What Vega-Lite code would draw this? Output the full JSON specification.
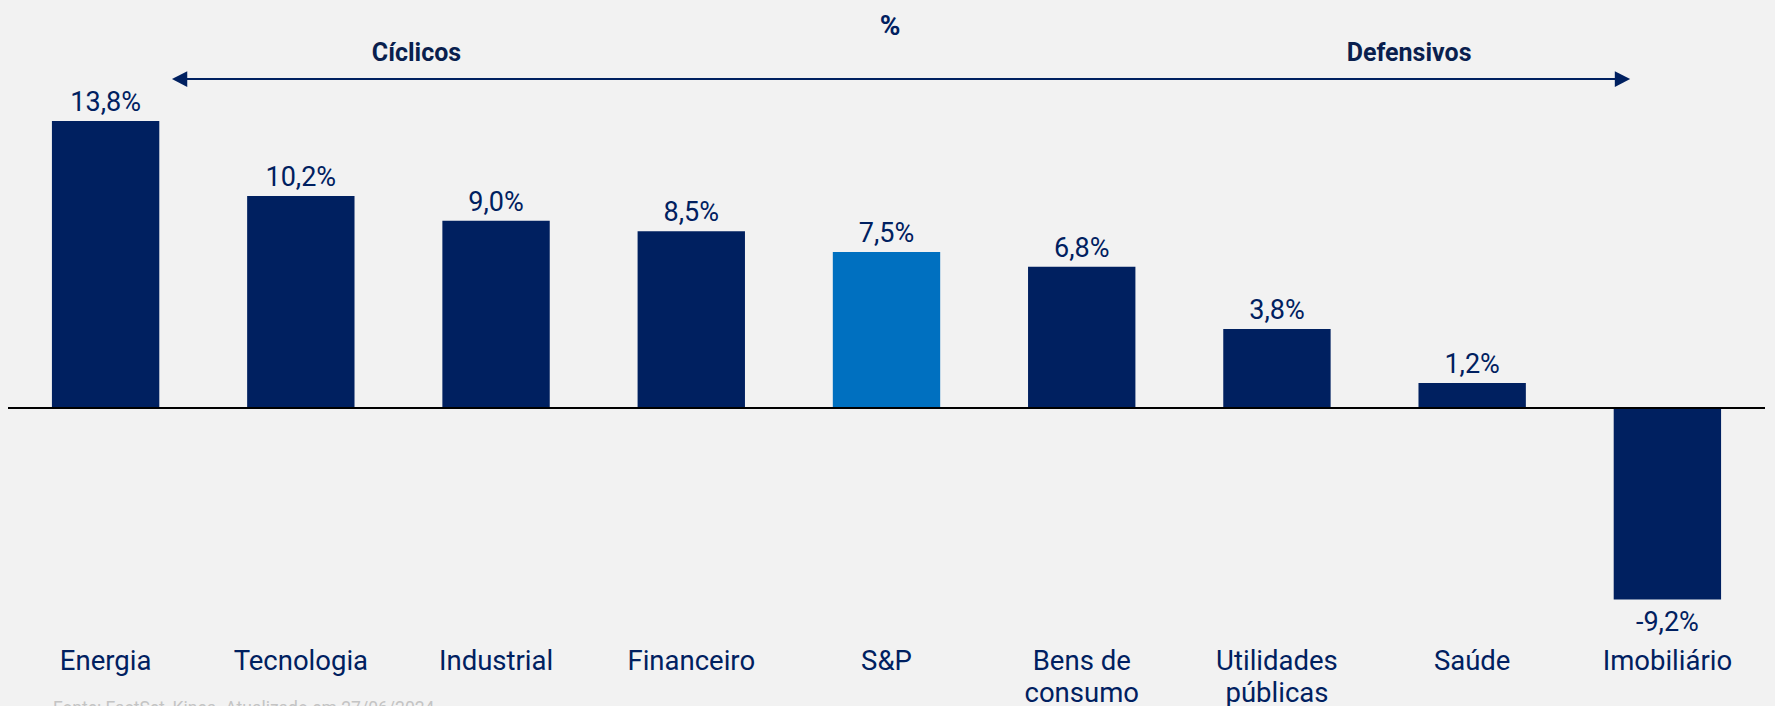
{
  "$schema": "https://vega.github.io/schema/vega-lite/v6.json",
  "width": 1757,
  "height": 636,
  "autosize": {"type": "none"},
  "padding": {"left": 8, "top": 0, "right": 10, "bottom": 70},
  "background": "#F2F2F2",
  "config": {
    "view": {"stroke": null},
    "font": "Roboto",
    "locale": {"number": {"decimal": ",", "thousands": ".", "grouping": [3], "currency": ["R$", ""], "minus": "-"}}
  },
  "datasets": {
    "setores": [
      {"setor": "Energia", "valor": 0.138},
      {"setor": "Tecnologia", "valor": 0.102},
      {"setor": "Industrial", "valor": 0.090},
      {"setor": "Financeiro", "valor": 0.085},
      {"setor": "S&P", "valor": 0.075},
      {"setor": "Bens de consumo", "valor": 0.068},
      {"setor": "Utilidades públicas", "valor": 0.038},
      {"setor": "Saúde", "valor": 0.012},
      {"setor": "Imobiliário", "valor": -0.092}
    ],
    "grupos": [
      {"pos": 2.0925, "y": 0.1707, "texto": "Cíclicos"},
      {"pos": 7.177, "y": 0.1707, "texto": "Defensivos"}
    ],
    "titulo": [{"pos": 4.518, "y": 0.1832, "texto": "%"}],
    "fonte": [{"pos": 0.23, "y": -0.1406, "texto": "Fonte: FactSet, Kinea. Atualizado em 27/06/2024"}],
    "seta": [{"inicio": 0.879, "fim": 8.27, "y": 0.1582}],
    "pontas": [
      {"pos": 0.879, "y": 0.1582, "dir": "esq"},
      {"pos": 8.27, "y": 0.1582, "dir": "dir"}
    ]
  },
  "layer": [
    {
      "data": {"name": "setores"},
      "encoding": {
        "x": {
          "field": "setor",
          "type": "nominal",
          "sort": null,
          "scale": {"paddingInner": 0.45, "paddingOuter": 0.225},
          "axis": {
            "orient": "bottom",
            "title": null,
            "labelAngle": 0,
            "ticks": false,
            "domain": false,
            "labelFont": "Roboto",
            "labelFontSize": 27.5,
            "labelColor": "#002060",
            "labelPadding": 11,
            "labelLineHeight": 32,
            "labelLimit": 0,
            "labelExpr": "datum.label == 'Bens de consumo' ? ['Bens de', 'consumo'] : datum.label == 'Utilidades públicas' ? ['Utilidades', 'públicas'] : datum.label"
          }
        },
        "y": {
          "field": "valor",
          "type": "quantitative",
          "scale": {"domain": [-0.1096, 0.1962], "nice": false, "zero": false},
          "axis": null
        }
      },
      "layer": [
        {
          "mark": {"type": "bar"},
          "encoding": {
            "color": {
              "condition": {"test": "datum.setor == 'S&P'", "value": "#0070C0"},
              "value": "#002060"
            }
          }
        },
        {
          "transform": [{"filter": "datum.valor >= 0"}],
          "mark": {"type": "text", "baseline": "alphabetic", "dy": -10, "fontSize": 27, "color": "#002060", "font": "Roboto"},
          "encoding": {"text": {"field": "valor", "type": "quantitative", "format": ".1%"}}
        },
        {
          "transform": [{"filter": "datum.valor < 0"}],
          "mark": {"type": "text", "baseline": "alphabetic", "dy": 32, "fontSize": 27, "color": "#002060", "font": "Roboto"},
          "encoding": {"text": {"field": "valor", "type": "quantitative", "format": ".1%"}}
        }
      ]
    },
    {
      "data": {"values": [{}]},
      "mark": {"type": "rule", "color": "#000000", "strokeWidth": 2},
      "encoding": {
        "y": {"datum": 0, "type": "quantitative", "scale": {"domain": [-0.1096, 0.1962], "nice": false, "zero": false}}
      }
    },
    {
      "layer": [
        {
          "data": {"name": "seta"},
          "mark": {"type": "rule", "color": "#002060", "strokeWidth": 2},
          "encoding": {
            "x": {"field": "inicio", "type": "quantitative", "scale": {"domain": [0, 9], "nice": false, "zero": false}, "axis": null},
            "x2": {"field": "fim"},
            "y": {"field": "y", "type": "quantitative", "scale": {"domain": [-0.1096, 0.1962], "nice": false, "zero": false}}
          }
        },
        {
          "data": {"name": "pontas"},
          "mark": {"type": "point", "filled": true, "size": 234, "color": "#002060", "opacity": 1, "strokeWidth": 0},
          "encoding": {
            "x": {"field": "pos", "type": "quantitative", "scale": {"domain": [0, 9], "nice": false, "zero": false}, "axis": null},
            "y": {"field": "y", "type": "quantitative", "scale": {"domain": [-0.1096, 0.1962], "nice": false, "zero": false}},
            "shape": {
              "field": "dir",
              "type": "nominal",
              "scale": {"domain": ["esq", "dir"], "range": ["M1,-1.03L-1,0L1,1.03Z", "M-1,-1.03L1,0L-1,1.03Z"]},
              "legend": null
            }
          }
        },
        {
          "data": {"name": "grupos"},
          "mark": {"type": "text", "fontSize": 25, "fontWeight": "bold", "color": "#0A1F4E", "baseline": "middle", "align": "center", "font": "Roboto"},
          "encoding": {
            "x": {"field": "pos", "type": "quantitative", "scale": {"domain": [0, 9], "nice": false, "zero": false}, "axis": null},
            "y": {"field": "y", "type": "quantitative", "scale": {"domain": [-0.1096, 0.1962], "nice": false, "zero": false}},
            "text": {"field": "texto"}
          }
        },
        {
          "data": {"name": "titulo"},
          "mark": {"type": "text", "fontSize": 28, "fontWeight": "bold", "color": "#002060", "baseline": "middle", "align": "center", "font": "Roboto"},
          "encoding": {
            "x": {"field": "pos", "type": "quantitative", "scale": {"domain": [0, 9], "nice": false, "zero": false}, "axis": null},
            "y": {"field": "y", "type": "quantitative", "scale": {"domain": [-0.1096, 0.1962], "nice": false, "zero": false}},
            "text": {"field": "texto"}
          }
        },
        {
          "data": {"name": "fonte"},
          "mark": {"type": "text", "fontSize": 17.5, "color": "#C4C4C4", "baseline": "top", "align": "left", "font": "Roboto"},
          "encoding": {
            "x": {"field": "pos", "type": "quantitative", "scale": {"domain": [0, 9], "nice": false, "zero": false}, "axis": null},
            "y": {"field": "y", "type": "quantitative", "scale": {"domain": [-0.1096, 0.1962], "nice": false, "zero": false}},
            "text": {"field": "texto"}
          }
        }
      ]
    }
  ],
  "resolve": {"scale": {"x": "independent"}}
}
